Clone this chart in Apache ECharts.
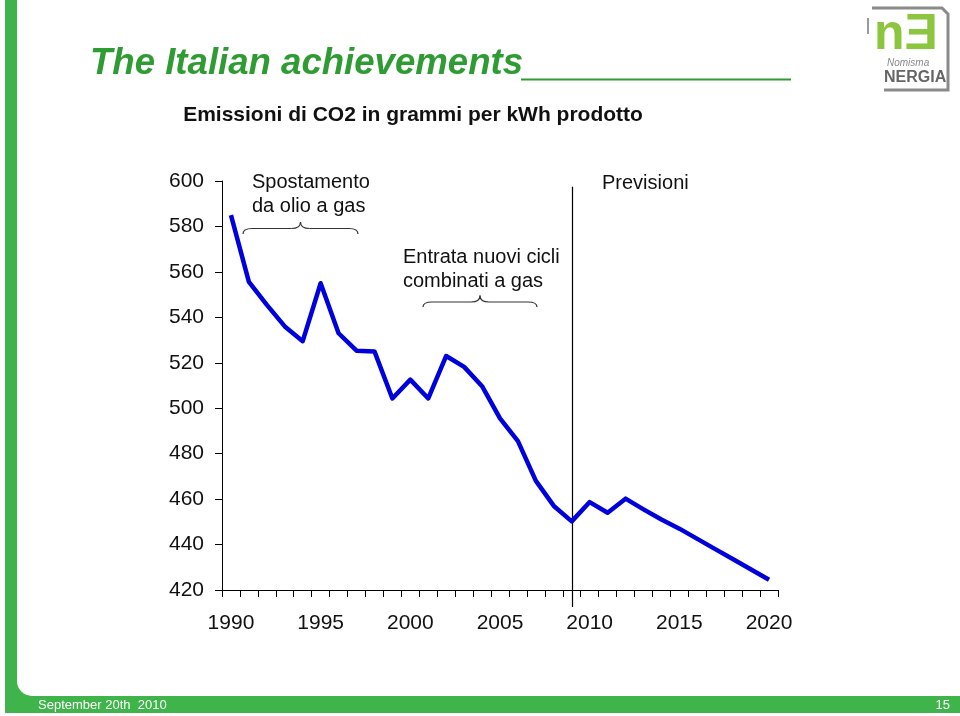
<!DOCTYPE html>
<html>
<head>
<meta charset="utf-8">
<script src="https://cdn.jsdelivr.net/npm/echarts@6/dist/echarts.min.js"></script>
<style>
html,body{margin:0;padding:0;background:#fff;}
#main{width:960px;height:716px;}
</style>
</head>
<body>
<div id="main"></div>
<script>
// ---- data ----
const years = ['1990','1991','1992','1993','1994','1995','1996','1997','1998','1999',
  '2000','2001','2002','2003','2004','2005','2006','2007','2008','2009',
  '2010','2011','2012','2013','2014','2015','2016','2017','2018','2019','2020'];
const emissions = [585, 555.6, 545.5, 536, 529.5, 555, 533, 525.3, 525, 504.3,
  512.6, 504.3, 523, 518.2, 509.7, 495.5, 485.5, 468, 457, 450.2,
  458.7, 454, 460.2, 455.5, 451, 447, 442.5, 438, 433.5, 429, 424.5];
const yTicks = [420, 440, 460, 480, 500, 520, 540, 560, 580, 600];
const forecastStartYear = '2009';
const forecastLineRange = [597.5, 412.5];
const titleText = 'The Italian achievements';
const subtitleText = 'Emissioni di CO2 in grammi per kWh prodotto';
const annotations = [
  {text: 'Spostamento\nda olio a gas'},
  {text: 'Entrata nuovi cicli\ncombinati a gas'},
  {text: 'Previsioni'}
];
const footerText = 'September 20th  2010';
const pageNumber = '15';

const GREEN = '#3fb44a';
const TITLE_GREEN = '#2f9c33';
const FONT = '"Liberation Sans", Arial, Helvetica, sans-serif';

function brace(x1, x2, yH, tipX, tipY, yEnd) {
  const st = {fill: null, stroke: '#333', lineWidth: 1.2};
  const r = 9;
  return [
    {type: 'bezierCurve', shape: {x1: x1, y1: yEnd, x2: x1 + r, y2: yH, cpx1: x1, cpy1: yH}, style: st, silent: true},
    {type: 'line', shape: {x1: x1 + r, y1: yH, x2: tipX - r, y2: yH}, style: st, silent: true},
    {type: 'bezierCurve', shape: {x1: tipX - r, y1: yH, x2: tipX, y2: tipY, cpx1: tipX, cpy1: yH}, style: st, silent: true},
    {type: 'bezierCurve', shape: {x1: tipX, y1: tipY, x2: tipX + r, y2: yH, cpx1: tipX, cpy1: yH}, style: st, silent: true},
    {type: 'line', shape: {x1: tipX + r, y1: yH, x2: x2 - r, y2: yH}, style: st, silent: true},
    {type: 'bezierCurve', shape: {x1: x2 - r, y1: yH, x2: x2, y2: yEnd, cpx1: x2, cpy1: yH}, style: st, silent: true}
  ];
}

const chart = echarts.init(document.getElementById('main'), null, {renderer: 'canvas'});

const graphics = [
  // left green bar and bottom band
  {type: 'rect', shape: {x: 5, y: 0, width: 12, height: 713}, style: {fill: GREEN}, silent: true},
  {type: 'rect', shape: {x: 5, y: 696, width: 955, height: 17}, style: {fill: GREEN}, silent: true},
  {type: 'rect', shape: {x: 17, y: 681, width: 15, height: 15}, style: {fill: GREEN}, silent: true},
  {type: 'circle', shape: {cx: 32, cy: 681, r: 15}, style: {fill: '#fff'}, silent: true},
  {type: 'text', left: 38, top: 699, style: {text: footerText, fill: '#fff', font: '13px ' + FONT}},
  {type: 'text', right: 10, top: 699, style: {text: pageNumber, fill: '#fff', font: '13px ' + FONT}},
  // title
  {type: 'text', left: 90, top: 45, style: {text: titleText, fill: TITLE_GREEN, font: 'italic bold 36.6px ' + FONT}},
  {type: 'line', shape: {x1: 521, y1: 79.5, x2: 791, y2: 79.5}, style: {stroke: TITLE_GREEN, lineWidth: 2}, silent: true},
  // subtitle
  {type: 'text', x: 413, y: 105, style: {text: subtitleText, fill: '#111', font: 'bold 21px ' + FONT, align: 'center'}, silent: true},
  // annotations
  {type: 'text', left: 252, top: 170, style: {text: annotations[0].text, fill: '#111', font: '20px ' + FONT, lineHeight: 24}},
  {type: 'text', left: 403, top: 245, style: {text: annotations[1].text, fill: '#111', font: '20px ' + FONT, lineHeight: 24}},
  {type: 'text', left: 602, top: 173, style: {text: annotations[2].text, fill: '#111', font: '20px ' + FONT}},
  // logo (approximation)
  {type: 'polyline', shape: {points: [[872, 8], [942, 8], [948, 14], [948, 90], [884, 90]]}, style: {fill: null, stroke: '#8a8a8a', lineWidth: 3}, silent: true},
  {type: 'rect', shape: {x: 867, y: 18, width: 2, height: 16}, style: {fill: '#9a9a9a'}, silent: true},
  {type: 'text', left: 874, top: 10, style: {text: 'nƎ', fill: '#8cc63f', font: 'bold 50px ' + FONT}},
  {type: 'text', left: 887, top: 58, style: {text: 'Nomisma', fill: '#888', font: 'italic 10px ' + FONT}},
  {type: 'text', left: 884, top: 70, style: {text: 'NERGIA', fill: '#666', font: 'bold 16px "Liberation Sans Narrow", ' + FONT}}
].concat(brace(243, 358, 228.5, 300.5, 222, 234)).concat(brace(423, 537, 302, 480, 295.5, 307));

const option = {
  backgroundColor: '#ffffff',
  animation: false,
  grid: {left: 222, right: 182, top: 181, bottom: 126, containLabel: false},
  xAxis: {
    type: 'category',
    data: years,
    boundaryGap: true,
    axisLine: {lineStyle: {color: '#000', width: 1}},
    axisTick: {show: true, interval: 0, length: 7, lineStyle: {color: '#000'}},
    axisLabel: {interval: 4, color: '#111', fontSize: 21, fontFamily: FONT, margin: 23},
    splitLine: {show: false}
  },
  yAxis: {
    type: 'value',
    min: 420, max: 600, interval: 20,
    axisLine: {show: true, lineStyle: {color: '#000', width: 1}},
    axisTick: {show: true, length: 7, lineStyle: {color: '#000'}},
    axisLabel: {color: '#111', fontSize: 21, fontFamily: FONT, margin: 18,
      formatter: function (v) { return yTicks.indexOf(v) >= 0 ? String(v) : ''; }},
    splitLine: {show: false}
  },
  series: [{
    type: 'line',
    data: emissions,
    symbol: 'none',
    clip: false,
    lineStyle: {color: '#0000dd', width: 4.5, join: 'round'},
    z: 3
  }],
  graphic: graphics
};
chart.setOption(option);

// forecast divider: positioned through the chart's own scales
const pTop = chart.convertToPixel({seriesIndex: 0}, [forecastStartYear, forecastLineRange[0]]);
const pBot = chart.convertToPixel({seriesIndex: 0}, [forecastStartYear, forecastLineRange[1]]);
chart.setOption({
  graphic: graphics.concat([{
    type: 'line', z: 1,
    shape: {x1: Math.round(pTop[0]) + 0.5, y1: pTop[1], x2: Math.round(pBot[0]) + 0.5, y2: pBot[1]},
    style: {stroke: '#000', lineWidth: 1.2}, silent: true
  }])
});
</script>
</body>
</html>
